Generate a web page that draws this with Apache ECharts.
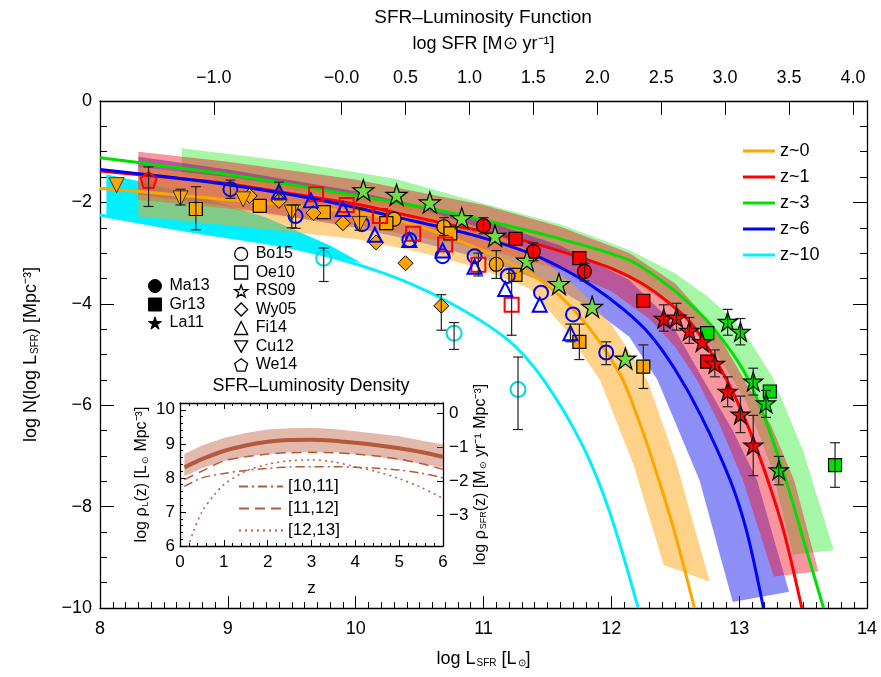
<!DOCTYPE html>
<html><head><meta charset="utf-8">
<script src="https://cdn.jsdelivr.net/npm/echarts@6/dist/echarts.min.js"></script>
<style>html,body{margin:0;padding:0;background:#fff}#c{width:881px;height:677px}</style>
</head><body><div id="c"></div>
<script>
// ---------------- DATA ----------------
// Main axes
const lumMin = 8, lumMax = 14;
const logNMin = -10, logNMax = 0;
const sfrOffset = 9.89;               // log SFR = log L - offset
const sfrTicks = [-1, 0, 0.5, 1, 1.5, 2, 2.5, 3, 3.5, 4];

// Model curves [log L, log N]
const lineZ0 = [[8,-1.72],[8.5,-1.83],[9,-1.95],[9.5,-2.06],[10,-2.2],[10.3,-2.33],[10.6,-2.56],[10.97,-2.92],[11.2,-3.18],[11.4,-3.46],[11.6,-3.85],[11.85,-4.55],[12.08,-5.45],[12.2,-6.2],[12.33,-7.15],[12.49,-8.46],[12.65,-10]];
const lineZ1 = [[8,-1.38],[8.5,-1.5],[9,-1.63],[9.5,-1.83],[10,-2.03],[10.2,-2.14],[10.7,-2.42],[11.2,-2.68],[11.6,-2.96],[12,-3.3],[12.24,-3.6],[12.45,-3.98],[12.63,-4.4],[12.87,-5.35],[13.05,-6.3],[13.22,-7.45],[13.35,-8.5],[13.49,-10]];
const lineZ3 = [[8,-1.12],[8.5,-1.28],[9,-1.45],[9.5,-1.65],[10.2,-1.95],[10.6,-2.13],[11,-2.35],[11.6,-2.72],[12.14,-3.14],[12.4,-3.56],[12.6,-3.97],[12.78,-4.42],[13.03,-5.3],[13.2,-6.25],[13.38,-7.6],[13.52,-8.8],[13.66,-10]];
const lineZ6 = [[8,-1.35],[8.5,-1.49],[9,-1.65],[9.5,-1.85],[10,-2.1],[10.3,-2.28],[10.6,-2.45],[10.97,-2.68],[11.36,-3.0],[11.6,-3.28],[11.85,-3.65],[12.1,-4.12],[12.3,-4.6],[12.5,-5.3],[12.7,-6.2],[12.93,-7.48],[13.06,-8.5],[13.19,-10]];
const lineZ10 = [[8,-2.25],[8.74,-2.58],[9.52,-2.9],[10.19,-3.37],[10.7,-3.93],[11.19,-4.71],[11.47,-5.5],[11.78,-6.82],[11.99,-8.13],[12.21,-10]];

// Uncertainty bands (upper edge, lower edge)
const bandZ0Upper = [[8.3,-1.3],[9,-1.5],[10,-1.85],[10.5,-2.12],[11,-2.52],[11.36,-2.95],[11.7,-3.6],[12.0,-4.4],[12.28,-5.5],[12.51,-7.15],[12.77,-9.48]];
const bandZ0Lower = [[8.3,-2.28],[9,-2.45],[10,-2.72],[10.5,-2.98],[10.97,-3.3],[11.36,-3.7],[11.64,-4.5],[11.91,-5.5],[12.17,-7.15],[12.41,-9.15]];
const bandZ1Upper = [[8.3,-1.0],[9,-1.2],[10,-1.55],[11,-2.05],[11.6,-2.48],[12.14,-3.0],[12.5,-3.6],[12.8,-4.45],[13.04,-5.5],[13.25,-6.4],[13.43,-7.48],[13.62,-9.28]];
const bandZ1Lower = [[8.3,-1.95],[9,-2.12],[10,-2.45],[11,-2.92],[11.6,-3.32],[12.0,-3.75],[12.3,-4.3],[12.5,-4.85],[12.67,-5.5],[12.85,-6.4],[13.03,-7.48],[13.27,-9.38]];
const bandZ3Upper = [[8.64,-0.93],[9.5,-1.2],[10.3,-1.53],[10.97,-2.0],[11.6,-2.43],[12.14,-2.94],[12.5,-3.4],[12.75,-3.85],[12.95,-4.3],[13.1,-4.8],[13.26,-5.44],[13.5,-6.9],[13.74,-8.86]];
const bandZ3Lower = [[8.64,-1.45],[9.5,-1.75],[10.3,-2.1],[11,-2.5],[11.6,-2.95],[12.14,-3.5],[12.5,-4.1],[12.8,-4.9],[13.05,-5.9],[13.25,-7.2],[13.42,-8.95]];
const bandZ6Upper = [[8.3,-1.1],[9,-1.35],[10,-1.78],[11,-2.35],[11.6,-2.85],[12.14,-3.53],[12.45,-4.3],[12.72,-5.5],[12.95,-6.5],[13.14,-7.48],[13.39,-9.68]];
const bandZ6Lower = [[8.3,-1.85],[9,-2.08],[10,-2.5],[10.5,-2.78],[11,-3.12],[11.5,-3.6],[11.85,-4.1],[12.14,-4.65],[12.36,-5.5],[12.69,-7.48],[12.95,-9.88]];
const bandZ10Upper = [[8.05,-1.45],[8.3,-1.58],[8.8,-1.9],[9.3,-2.3],[9.8,-2.85],[10.05,-3.2]];
const bandZ10Lower = [[8.05,-2.27],[8.74,-2.58],[9.52,-2.9],[10.05,-3.2]];

// Observed points [log L, log N, errLow, errHigh]
const ma13_z0 = [[10.30,-2.33,null,null],[10.69,-2.48,-2.65,-2.3],[11.1,-3.22,-3.5,-2.95]];
const ma13_z1 = [[11.0,-2.46,-2.62,-2.3],[11.39,-2.97,-3.15,-2.8],[11.79,-3.36,-3.55,-3.2]];
const gr13_z0 = [[8.75,-2.13,-2.54,-1.69],[9.25,-2.07,null,null],[9.75,-2.19,null,null],[10.24,-2.41,null,null],[10.74,-2.61,null,null],[11.25,-3.43,null,null],[11.75,-4.75,-5.1,-4.4],[12.25,-5.24,-5.67,-4.81]];
const gr13_z1 = [[11.25,-2.72,null,null],[11.75,-3.10,null,null],[12.25,-3.94,null,null],[12.75,-5.14,null,null]];
const gr13_z3 = [[12.75,-4.58,null,null],[13.24,-5.73,null,null],[13.75,-7.18,-7.62,-6.74]];
const la11_z1 = [[12.41,-4.29,-4.54,-4.02],[12.51,-4.27,-4.52,-3.99],[12.61,-4.53,-4.78,-4.27],[12.71,-4.75,null,null],[12.81,-5.18,-5.44,-4.91],[12.91,-5.73,-6.03,-5.44],[13.01,-6.18,-6.54,-5.82],[13.11,-6.79,-7.39,-6.2]];
const la11_z3 = [[12.91,-4.35,-4.62,-4.11],[13.01,-4.55,-4.81,-4.29],[13.11,-5.53,-5.8,-5.27],[13.21,-5.96,-6.24,-5.71],[13.31,-7.28,-7.57,-7.01]];
const bo15_z6 = [[9.02,-1.74,-1.92,-1.56],[9.53,-2.27,-2.51,-2.05],[10.05,-2.43,null,null],[10.42,-2.74,null,null],[10.68,-3.06,null,null],[10.93,-3.06,null,null],[11.19,-3.45,null,null],[11.45,-3.78,null,null],[11.70,-4.21,null,null],[11.96,-4.96,-5.2,-4.75]];
const bo15_z10 = [[9.75,-3.10,-3.56,-2.9],[10.77,-4.58,-4.9,-4.37],[11.27,-5.69,-6.48,-5.05]];
const oe10_z1 = [[9.69,-1.84,null,null],[9.93,-2.05,null,null],[10.19,-2.27,null,null],[10.45,-2.62,null,null],[10.70,-2.83,null,null],[10.96,-3.23,-3.45,-3.0],[11.22,-4.02,-4.62,-3.4]];
const rs09_z3 = [[10.06,-1.76,null,null],[10.32,-1.85,null,null],[10.58,-2.0,null,null],[10.83,-2.31,null,null],[11.09,-2.66,null,null],[11.34,-3.15,null,null],[11.59,-3.61,null,null],[11.85,-4.06,null,null],[12.11,-5.08,null,null]];
const wy05_z0 = [[9.17,-1.87,null,null],[9.40,-1.97,null,null],[9.67,-2.21,null,null],[9.90,-2.41,null,null],[10.16,-2.79,null,null],[10.39,-3.2,null,null],[10.67,-4.04,-4.52,-3.82]];
const fi14_z6 = [[9.40,-1.79,-1.95,-1.6],[9.65,-1.96,null,null],[9.90,-2.13,null,null],[10.15,-2.64,null,null],[10.42,-2.74,null,null],[10.68,-2.95,null,null],[10.93,-3.27,null,null],[11.17,-3.71,null,null],[11.44,-4.02,null,null],[11.68,-4.58,-4.75,-4.4]];
const cu12_z0 = [[8.13,-1.66,null,null],[8.63,-1.92,-2.05,-1.74],[9.12,-1.94,null,null],[9.50,-2.2,-2.5,-2.05],[10.03,-2.43,-2.55,-2.12]];
const we14_z1 = [[8.38,-1.56,-2.08,-1.3]];

// Inset: SFR-luminosity density
const rhoOffset = 9.9;
const zGrid   = [0.1,0.5,1,1.5,2,2.5,3,3.5,4,4.5,5,5.5,6];
const rhoL    = [8.31,8.55,8.79,8.95,9.06,9.11,9.12,9.09,9.03,8.96,8.87,8.76,8.62];
const rhoLHi  = [8.70,8.95,9.17,9.32,9.42,9.46,9.47,9.44,9.37,9.30,9.22,9.10,8.98];
const rhoLLo  = [8.05,8.28,8.50,8.62,8.70,8.75,8.76,8.75,8.70,8.62,8.52,8.42,8.30];
const rho1011 = [7.75,8.00,8.13,8.22,8.28,8.32,8.33,8.33,8.31,8.28,8.23,8.14,8.00];
const rho1112 = [7.95,8.20,8.50,8.62,8.70,8.74,8.75,8.74,8.70,8.64,8.55,8.42,8.25];
const zDot    = [0.18,0.3,0.5,0.75,1,1.5,2,2.5,3,3.5,4,4.5,5,5.5,6];
const rho1213 = [5.95,6.4,7.0,7.45,7.8,8.2,8.4,8.5,8.53,8.47,8.33,8.18,7.98,7.72,7.4];

// ---------------- STYLE ----------------
const FONT = 'Liberation Sans';
const COL = {z0:'#ffa500', z1:'#ff0000', z3:'#00e000', z6:'#0000ff', z10:'#00f0ff'};
const BROWN = '#b45a3a';
const starPath = 'path://M50,0 L61.8,35.3 L99,35.3 L68.8,57.2 L80.4,92.7 L50,70.8 L19.6,92.7 L31.2,57.2 L1,35.3 L38.2,35.3 Z';
const pentPath = 'path://M50,0 L97.6,34.5 L79.4,90.5 L20.6,90.5 L2.4,34.5 Z';
const invTriPath = 'path://M0,0 L100,0 L50,87 Z';
const minus = v => String(v).replace('-', '\u2212');

function bandSeries(upper, lower, fill, z, xi, yi) {
  return {
    type: 'custom', xAxisIndex: xi || 0, yAxisIndex: yi || 0, silent: true, z: z, clip: true,
    data: [[upper[0][0], upper[0][1]]],
    renderItem: function (params, api) {
      const pts = upper.map(p => api.coord(p)).concat(lower.slice().reverse().map(p => api.coord(p)));
      return {type: 'polygon', shape: {points: pts}, style: {fill: fill}};
    }
  };
}
function lineSeries(name, data, color, width) {
  return {type: 'line', name: name, data: data, xAxisIndex: 0, yAxisIndex: 0, showSymbol: false, symbol: 'none',
    smooth: 0.3, z: 3, clip: true,
    lineStyle: {color: color, width: width || 3}, itemStyle: {color: color}};
}
function scatterSeries(name, pts, symbol, size, fill, border, bw) {
  return {type: 'scatter', name: name, xAxisIndex: 0, yAxisIndex: 0, z: 4,
    data: pts.map(p => [p[0], p[1]]), symbol: symbol, symbolSize: size,
    itemStyle: {color: fill, borderColor: border, borderWidth: bw, opacity: 1}};
}
const allPts = [ma13_z0, ma13_z1, gr13_z0, gr13_z1, gr13_z3, la11_z1, la11_z3, bo15_z6, bo15_z10, oe10_z1, rs09_z3, wy05_z0, fi14_z6, cu12_z0, we14_z1];
const errData = [].concat(...allPts).filter(p => p[2] !== null).map(p => [p[0], p[1], p[2], p[3]]);

const insetLine = (name, xs, ys, width, type) => ({
  type: 'line', name: name, xAxisIndex: 2, yAxisIndex: 2, showSymbol: false, symbol: 'none', smooth: 0.3, z: 6, clip: true,
  data: xs.map((x, i) => [x, ys[i]]), lineStyle: {color: BROWN, width: width, type: type}, itemStyle: {color: BROWN}
});

const TXT = {fontFamily: FONT, color: '#000'};
const subRich = {a: {fontFamily: FONT, fontSize: 18, color: '#000'}, b: {fontFamily: FONT, fontSize: 10, color: '#000', padding: [8, 0, 0, 1]}};
const subRichSmall = {a: {fontFamily: FONT, fontSize: 16, color: '#000'}, b: {fontFamily: FONT, fontSize: 9, color: '#000', padding: [7, 0, 0, 1]}};
const axLine = {show: true, onZero: false, lineStyle: {color: '#000', width: 1.3}};

const option = {
  animation: false,
  backgroundColor: '#fff',
  grid: [
    {left: 100, top: 101, width: 767, height: 507, show: false},
    {left: 180, top: 403, width: 263, height: 143, show: true, backgroundColor: '#fff', borderWidth: 0}
  ],
  graphic: [
    {type: 'text', x: 483, y: 18, style: {text: 'SFR\u2013Luminosity Function', font: '19px "Liberation Sans"', fill: '#000', align: 'center', verticalAlign: 'middle'}},
    {type: 'text', x: 311, y: 386, style: {text: 'SFR\u2013Luminosity Density', font: '18px "Liberation Sans"', fill: '#000', align: 'center', verticalAlign: 'middle'}, z: 10}
  ],
  xAxis: [
    {type: 'value', gridIndex: 0, position: 'bottom', min: lumMin, max: lumMax, interval: 1,
     axisLine: axLine, splitLine: {show: false},
     axisTick: {inside: true, length: 12, lineStyle: {color: '#000'}},
     minorTick: {show: true, splitNumber: 10, length: 6, lineStyle: {color: '#000'}},
     axisLabel: Object.assign({fontSize: 18, margin: 12}, TXT),
     name: '{a|log L}{b|SFR}{a| [L}{b|\u2299}{a|]}', nameLocation: 'middle', nameGap: 42,
     nameTextStyle: {rich: subRich}},
    {type: 'value', gridIndex: 0, position: 'top', min: lumMin - sfrOffset, max: lumMax - sfrOffset,
     axisLine: axLine, splitLine: {show: false},
     axisTick: {inside: true, length: 14, customValues: sfrTicks, lineStyle: {color: '#000'}},
     axisLabel: Object.assign({fontSize: 18, margin: 14, customValues: sfrTicks,
       formatter: v => v === 0 ? '\u22120.0' : minus(v.toFixed(1))}, TXT),
     name: 'log SFR [M\u2299 yr\u207B\u00B9]', nameLocation: 'middle', nameGap: 48,
     nameTextStyle: {fontFamily: FONT, fontSize: 18, color: '#000'}},
    {type: 'value', gridIndex: 1, position: 'bottom', min: 0, max: 6, interval: 1,
     axisLine: axLine, splitLine: {show: false},
     axisTick: {inside: true, length: 6, lineStyle: {color: '#000'}},
     minorTick: {show: true, splitNumber: 5, length: 3, lineStyle: {color: '#000'}},
     axisLabel: Object.assign({fontSize: 17, margin: 8}, TXT),
     name: 'z', nameLocation: 'middle', nameGap: 34, nameTextStyle: {fontFamily: FONT, fontSize: 17, color: '#000'}},
    {type: 'value', gridIndex: 1, position: 'top', min: 0, max: 6, interval: 1,
     axisLine: axLine, splitLine: {show: false},
     axisTick: {inside: true, length: 6, lineStyle: {color: '#000'}},
     minorTick: {show: true, splitNumber: 5, length: 3, lineStyle: {color: '#000'}},
     axisLabel: {show: false}}
  ],
  yAxis: [
    {type: 'value', gridIndex: 0, position: 'left', min: logNMin, max: logNMax, interval: 2,
     axisLine: axLine, splitLine: {show: false},
     axisTick: {inside: true, length: 14, lineStyle: {color: '#000'}},
     minorTick: {show: true, splitNumber: 4, length: 7, lineStyle: {color: '#000'}},
     axisLabel: Object.assign({fontSize: 18, margin: 8, formatter: v => minus(v)}, TXT),
     name: '{a|log N(log L}{b|SFR}{a|) [Mpc\u207B\u00B3]}', nameLocation: 'middle', nameGap: 60,
     nameTextStyle: {rich: subRich}},
    {type: 'value', gridIndex: 0, position: 'right', min: logNMin, max: logNMax, interval: 2,
     axisLine: axLine, splitLine: {show: false},
     axisTick: {inside: true, length: 14, lineStyle: {color: '#000'}},
     minorTick: {show: true, splitNumber: 4, length: 7, lineStyle: {color: '#000'}},
     axisLabel: {show: false}},
    {type: 'value', gridIndex: 1, position: 'left', min: 6, max: 10.2, interval: 1,
     axisLine: axLine, splitLine: {show: false},
     axisTick: {inside: true, length: 6, lineStyle: {color: '#000'}},
     minorTick: {show: true, splitNumber: 5, length: 3, lineStyle: {color: '#000'}},
     axisLabel: Object.assign({fontSize: 17, margin: 5, showMaxLabel: false}, TXT),
     name: '{a|log \u03C1}{b|L}{a|(z) [L}{b|\u2299}{a| Mpc\u207B\u00B3]}', nameLocation: 'middle', nameGap: 30,
     nameTextStyle: {rich: subRichSmall}},
    {type: 'value', gridIndex: 1, position: 'right', min: 6 - rhoOffset, max: 10.2 - rhoOffset,
     axisLine: axLine, splitLine: {show: false},
     axisTick: {inside: true, length: 6, customValues: [-3, -2, -1, 0], lineStyle: {color: '#000'}},
     axisLabel: Object.assign({fontSize: 17, margin: 6, customValues: [-3, -2, -1, 0], formatter: v => minus(v)}, TXT),
     name: '{a|log \u03C1}{b|SFR}{a|(z) [M}{b|\u2299}{a| yr\u207B\u00B9 Mpc\u207B\u00B3]}', nameLocation: 'middle', nameGap: 28,
     nameTextStyle: {rich: subRichSmall}}
  ],
  legend: [
    {orient: 'vertical', left: 738, top: 137, itemWidth: 32, itemHeight: 3, itemGap: 8, selectedMode: false,
     textStyle: {fontFamily: FONT, fontSize: 18, color: '#000'},
     data: ['z~0', 'z~1', 'z~3', 'z~6', 'z~10'].map(n => ({name: n, icon: 'rect'}))},
    {orient: 'vertical', left: 229, top: 241, itemWidth: 13, itemHeight: 13, itemGap: 2.5, selectedMode: false,
     textStyle: {fontFamily: FONT, fontSize: 16, color: '#000', padding: [0, 0, 0, 3]},
     data: [['Bo15', 'circle'], ['Oe10', 'rect'], ['RS09', starPath], ['Wy05', 'diamond'], ['Fi14', 'triangle'], ['Cu12', invTriPath], ['We14', pentPath]]
       .map(d => ({name: d[0], icon: d[1], itemStyle: {color: '#fff', borderColor: '#000', borderWidth: 1.3}}))},
    {orient: 'vertical', left: 143, top: 273, itemWidth: 13, itemHeight: 13, itemGap: 2.5, selectedMode: false,
     textStyle: {fontFamily: FONT, fontSize: 16, color: '#000', padding: [0, 0, 0, 3]},
     data: [['Ma13', 'circle'], ['Gr13', 'rect'], ['La11', starPath]]
       .map(d => ({name: d[0], icon: d[1], itemStyle: {color: '#000', borderColor: '#000', borderWidth: 1}}))},
    {orient: 'vertical', left: 233, top: 473, itemWidth: 44, itemHeight: 12, itemGap: 5, selectedMode: false, z: 10,
     textStyle: {fontFamily: FONT, fontSize: 17, color: '#000'},
     itemStyle: {opacity: 0},
     data: ['[10,11]', '[11,12]', '[12,13]']}
  ],
  series: [
    bandSeries(bandZ10Upper, bandZ10Lower, COL.z10, 1),
    bandSeries(bandZ3Upper, bandZ3Lower, 'rgba(40,235,40,0.42)', 2),
    bandSeries(bandZ6Upper, bandZ6Lower, 'rgba(30,30,240,0.5)', 2),
    bandSeries(bandZ1Upper, bandZ1Lower, 'rgba(240,20,40,0.45)', 2),
    bandSeries(bandZ0Upper, bandZ0Lower, 'rgba(255,165,20,0.5)', 2),
    lineSeries('z~0', lineZ0, COL.z0),
    lineSeries('z~1', lineZ1, COL.z1),
    lineSeries('z~3', lineZ3, COL.z3),
    lineSeries('z~6', lineZ6, COL.z6),
    lineSeries('z~10', lineZ10, COL.z10),
    scatterSeries('Ma13', ma13_z0, 'circle', 14, COL.z0, '#000', 1.2),
    scatterSeries('Ma13', ma13_z1, 'circle', 14, COL.z1, '#000', 1.2),
    scatterSeries('Gr13', gr13_z0, 'rect', 13, COL.z0, '#000', 1.2),
    scatterSeries('Gr13', gr13_z1, 'rect', 13, COL.z1, '#000', 1.2),
    scatterSeries('Gr13', gr13_z3, 'rect', 13, COL.z3, '#000', 1.2),
    scatterSeries('La11', la11_z1, starPath, 19, COL.z1, '#000', 1.2),
    scatterSeries('La11', la11_z3, starPath, 19, COL.z3, '#000', 1.2),
    scatterSeries('Bo15', bo15_z6, 'circle', 14, 'rgba(255,255,255,0)', COL.z6, 2),
    scatterSeries('Bo15', bo15_z10, 'circle', 15, 'rgba(255,255,255,0)', '#00d8e0', 2),
    scatterSeries('Oe10', oe10_z1, 'rect', 14, 'rgba(255,255,255,0)', COL.z1, 2),
    scatterSeries('RS09', rs09_z3, starPath, 21, '#6edc44', '#000', 1.2),
    scatterSeries('Wy05', wy05_z0, 'diamond', 15, COL.z0, '#000', 1),
    scatterSeries('Fi14', fi14_z6, 'triangle', 14, 'rgba(255,255,255,0)', COL.z6, 2),
    scatterSeries('Cu12', cu12_z0, invTriPath, 15, COL.z0, '#333', 1),
    scatterSeries('We14', we14_z1, pentPath, 16, 'rgba(255,0,0,0.25)', COL.z1, 2),
    {type: 'custom', name: 'err', xAxisIndex: 0, yAxisIndex: 0, z: 5, silent: true, clip: true,
     data: errData, encode: {x: 0, y: [2, 3]},
     renderItem: function (params, api) {
       const x = api.value(0);
       const lo = api.coord([x, api.value(2)]);
       const hi = api.coord([x, api.value(3)]);
       const w = 5, st = {stroke: '#222', lineWidth: 1.2};
       return {type: 'group', children: [
         {type: 'line', shape: {x1: lo[0], y1: lo[1], x2: hi[0], y2: hi[1]}, style: st},
         {type: 'line', shape: {x1: lo[0] - w, y1: lo[1], x2: lo[0] + w, y2: lo[1]}, style: st},
         {type: 'line', shape: {x1: hi[0] - w, y1: hi[1], x2: hi[0] + w, y2: hi[1]}, style: st}
       ]};
     }},
    // inset
    bandSeries(zGrid.map((z, i) => [z, rhoLHi[i]]), zGrid.map((z, i) => [z, rhoLLo[i]]), 'rgba(190,100,70,0.45)', 6, 2, 2),
    insetLine('rhoL', zGrid, rhoL, 4, 'solid'),
    insetLine('[10,11]', zGrid, rho1011, 1.5, [9, 4, 2, 4]),
    insetLine('[11,12]', zGrid, rho1112, 1.5, [10, 6]),
    insetLine('[12,13]', zDot, rho1213, 1.5, [2, 4])
  ]
};

const chart = echarts.init(document.getElementById('c'), null, {renderer: 'canvas'});
chart.setOption(option);
</script>
</body></html>
